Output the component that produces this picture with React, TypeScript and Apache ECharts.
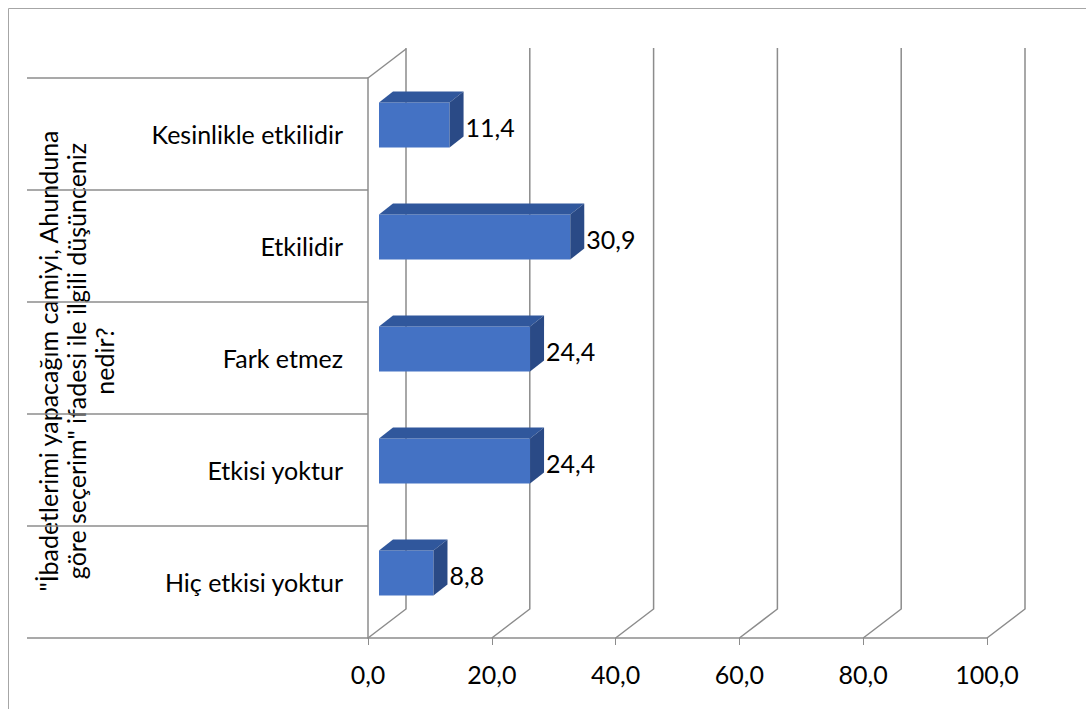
import React, { useEffect, useRef } from "react";
import * as echarts from "echarts";

const categories = [
  "Kesinlikle etkilidir",
  "Etkilidir",
  "Fark etmez",
  "Etkisi yoktur",
  "Hiç etkisi yoktur",
];
const values = [11.4, 30.9, 24.4, 24.4, 8.8];
const xTicks = [0, 20, 40, 60, 80, 100];
const axisTitle =
  '"İbadetlerimi yapacağım camiyi, Ahunduna\ngöre seçerim" ifadesi ile ilgili düşünceniz\nnedir?';

const FONT = "Lato";
const FS = 25;
const GRID_COLOR = "#8c8c8c";
const fmt = (v: number) => v.toFixed(1).replace(".", ",");

export default function App() {
  const ref = useRef<HTMLDivElement>(null);
  useEffect(() => {
    if (!ref.current) return;
    const chart = echarts.init(ref.current, undefined, { renderer: "svg" });
    const DX = 38, DY = -29; // depth of the 3D box
    const BOX = 11, BOY = -9; // bar front face offset
    const BDX = 14, BDY = -11; // bar depth
    const BH = 45;

    chart.setOption({
      animation: false,
      backgroundColor: "#ffffff",
      grid: { left: 368, right: 99, top: 78, bottom: 71, containLabel: false },
      xAxis: {
        type: "value",
        min: 0,
        max: 100,
        interval: 20,
        axisLine: { show: true, lineStyle: { color: GRID_COLOR, width: 1.5 } },
        axisTick: { show: true, length: 7, lineStyle: { color: GRID_COLOR, width: 1 } },
        splitLine: { show: false },
        axisLabel: {
          formatter: (v: number) => fmt(v),
          fontFamily: FONT,
          fontSize: FS,
          color: "#000",
          margin: 23,
        },
      },
      yAxis: {
        type: "category",
        data: categories,
        inverse: true,
        axisLine: { show: true, lineStyle: { color: GRID_COLOR, width: 1.5 } },
        axisTick: {
          show: true,
          length: 341,
          interval: 0,
          alignWithLabel: false,
          lineStyle: { color: GRID_COLOR, width: 1.5 },
        },
        axisLabel: {
          interval: 0,
          margin: 25,
          fontFamily: FONT,
          fontSize: FS,
          color: "#000",
        },
        splitLine: { show: false },
      },
      graphic: [
        {
          type: "rect",
          shape: { x: 8.5, y: 8.5, width: 1100, height: 720 },
          style: { fill: "none", stroke: "#a6a6a6", lineWidth: 1 },
          silent: true,
        },
        {
          type: "text",
          x: 76,
          y: 361,
          rotation: Math.PI / 2,
          style: {
            text: axisTitle,
            align: "center",
            verticalAlign: "middle",
            fontFamily: FONT,
            fontSize: FS,
            lineHeight: 28,
            fill: "#000",
          },
        },
      ],
      series: [
        {
          type: "custom",
          name: "walls",
          clip: false,
          silent: true,
          data: xTicks.map((v) => [v, 0]),
          encode: { x: 0, y: 1 },
          renderItem: (params: any, api: any) => {
            const v = api.value(0);
            const band = api.size([0, 1])[1];
            const top = api.coord([v, 0])[1] - band / 2;
            const bottom = api.coord([v, categories.length - 1])[1] + band / 2;
            const x = api.coord([v, 0])[0];
            const children: any[] = [
              {
                type: "polyline",
                shape: {
                  points: [
                    [x, bottom],
                    [x + DX, bottom + DY],
                    [x + DX, top + DY - 1],
                  ],
                },
                style: { stroke: GRID_COLOR, lineWidth: 1.5, fill: "none" },
              },
            ];
            if (v === 0) {
              children.push({
                type: "line",
                shape: { x1: x, y1: top, x2: x + DX, y2: top + DY },
                style: { stroke: GRID_COLOR, lineWidth: 1.5 },
              });
            }
            return { type: "group", children };
          },
          z: 1,
        },
        {
          type: "custom",
          name: "bars",
          clip: false,
          data: values.map((v, i) => [v, i]),
          encode: { x: 0, y: 1 },
          renderItem: (params: any, api: any) => {
            const v = api.value(0);
            const idx = api.value(1);
            const p0 = api.coord([0, idx]);
            const p1 = api.coord([v, idx]);
            const x0 = p0[0] + BOX;
            const x1 = p1[0] + BOX;
            const cy = p0[1] + BOY;
            const t = cy - BH / 2;
            const b = cy + BH / 2;
            return {
              type: "group",
              children: [
                {
                  type: "polygon",
                  shape: { points: [[x0, t], [x1, t], [x1, b], [x0, b]] },
                  style: { fill: "#4472C4" },
                },
                {
                  type: "polygon",
                  shape: {
                    points: [[x0, t], [x0 + BDX, t + BDY], [x1 + BDX, t + BDY], [x1, t]],
                  },
                  style: { fill: "#30579C" },
                },
                {
                  type: "polygon",
                  shape: {
                    points: [[x1, t], [x1 + BDX, t + BDY], [x1 + BDX, b + BDY], [x1, b]],
                  },
                  style: { fill: "#2A4A86" },
                },
                {
                  type: "text",
                  x: x1 + BDX + 2,
                  y: cy + 2,
                  style: {
                    text: fmt(v),
                    align: "left",
                    verticalAlign: "middle",
                    fontFamily: FONT,
                    fontSize: FS,
                    fill: "#000",
                  },
                },
              ],
            };
          },
          z: 2,
        },
      ],
    });
    return () => chart.dispose();
  }, []);
  return (
    <div
      ref={ref}
      style={{ position: "absolute", left: 0, top: 0, width: 1086, height: 709 }}
    />
  );
}
